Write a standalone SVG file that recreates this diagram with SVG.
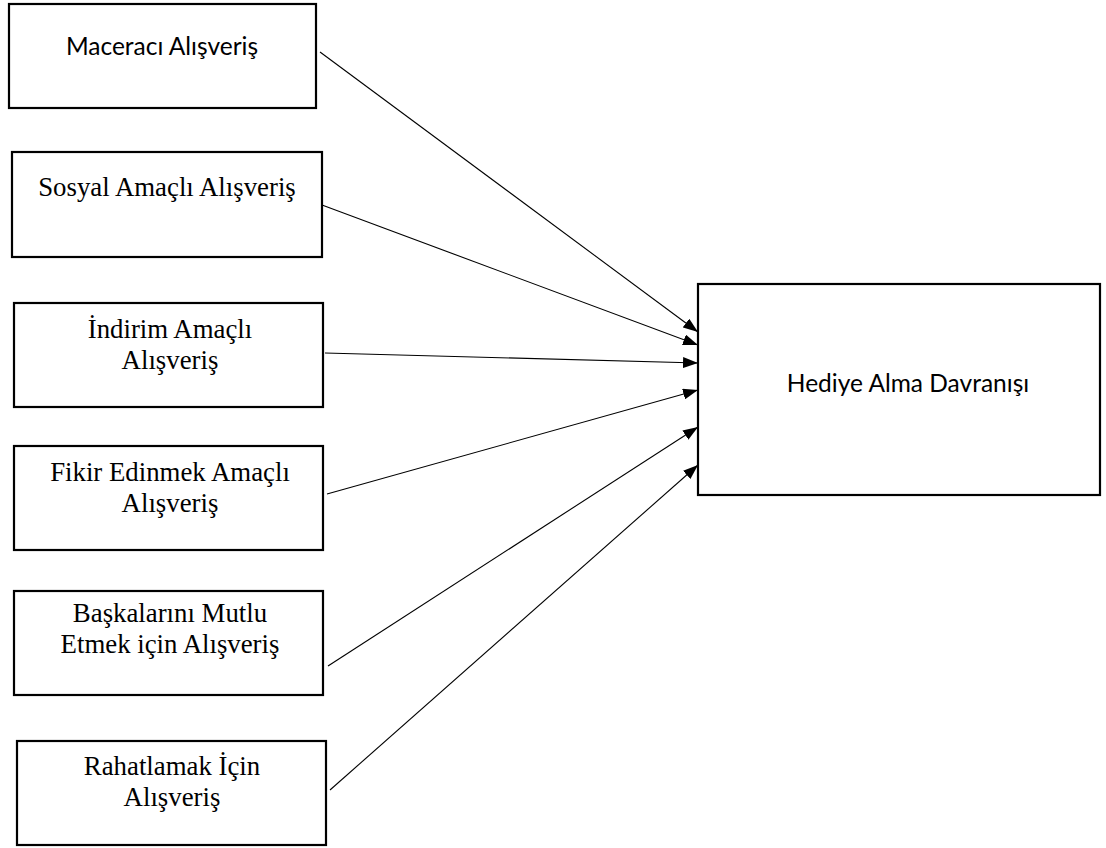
<svg xmlns="http://www.w3.org/2000/svg" width="1106" height="848" viewBox="0 0 1106 848">
  <style>
    .box { fill: #ffffff; stroke: #000000; stroke-width: 2.2; }
    .sans { font-family: Lato, "Open Sans", "Liberation Sans", sans-serif; font-size: 24.5px; fill: #000000; text-anchor: middle; }
    .serif { font-family: "Liberation Serif", "Times New Roman", serif; font-size: 26.8px; fill: #000000; text-anchor: middle; }
    .link { stroke: #000000; stroke-width: 1.1; fill: none; marker-end: url(#head); }
  </style>
  <defs>
    <marker id="head" viewBox="0 0 15 11" refX="15" refY="5.5" markerWidth="15" markerHeight="11" markerUnits="userSpaceOnUse" orient="auto">
      <path d="M0,0 L15,5.5 L0,11 Z" fill="#000000"/>
    </marker>
  </defs>

  <g id="maceraci">
    <rect class="box" x="9" y="4" width="307" height="104"/>
    <text class="sans" x="162" y="55">Maceracı Alışveriş</text>
  </g>

  <g id="sosyal">
    <rect class="box" x="12" y="152" width="310" height="105"/>
    <text class="serif" x="167" y="196">Sosyal Amaçlı Alışveriş</text>
  </g>

  <g id="indirim">
    <rect class="box" x="14" y="303" width="309" height="104"/>
    <text class="serif" x="170" y="338">İndirim Amaçlı</text>
    <text class="serif" x="170" y="369">Alışveriş</text>
  </g>

  <g id="fikir">
    <rect class="box" x="14" y="446" width="309" height="104"/>
    <text class="serif" x="170" y="481">Fikir Edinmek Amaçlı</text>
    <text class="serif" x="170" y="512">Alışveriş</text>
  </g>

  <g id="baskalari">
    <rect class="box" x="14" y="591" width="309" height="104"/>
    <text class="serif" x="170" y="622">Başkalarını Mutlu</text>
    <text class="serif" x="170" y="653">Etmek için Alışveriş</text>
  </g>

  <g id="rahatlamak">
    <rect class="box" x="17" y="741" width="309" height="104"/>
    <text class="serif" x="172" y="775">Rahatlamak İçin</text>
    <text class="serif" x="172" y="806">Alışveriş</text>
  </g>

  <g id="hediye">
    <rect class="box" x="698" y="284" width="402" height="211"/>
    <text class="sans" x="908" y="392">Hediye Alma Davranışı</text>
  </g>

  <g id="connectors">
    <line class="link" x1="320" y1="52" x2="698" y2="332"/>
    <line class="link" x1="322" y1="205" x2="698" y2="345"/>
    <line class="link" x1="325" y1="353" x2="698" y2="363"/>
    <line class="link" x1="327" y1="494" x2="698" y2="390"/>
    <line class="link" x1="328" y1="666" x2="698" y2="427"/>
    <line class="link" x1="330" y1="790" x2="698" y2="465"/>
  </g>
</svg>
